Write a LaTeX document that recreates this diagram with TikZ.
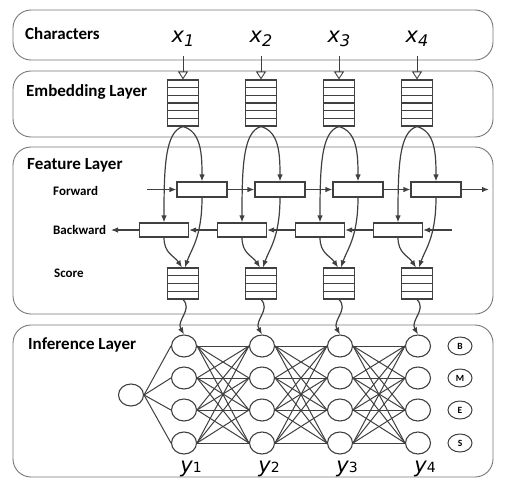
\documentclass[tikz,border=0pt]{standalone}
\usepackage{fontspec}
\setmainfont{Carlito}
\newfontfamily\symfont{DejaVu Sans}
\usetikzlibrary{shapes,arrows.meta,positioning,calc}

\definecolor{linegray}{RGB}{64,64,64}
\definecolor{panelgray}{RGB}{118,118,118}

\begin{document}
\begin{tikzpicture}[x=1pt, y=-1pt]

% Define styles
\tikzstyle{panel} = [draw=panelgray, line width=0.9pt, rounded corners=18pt]
\tikzstyle{layername} = [anchor=base west, inner sep=0pt, font=\fontsize{17}{17}\selectfont\bfseries]
\tikzstyle{rowlabel} = [anchor=base west, inner sep=0pt, font=\fontsize{13}{13}\selectfont\bfseries]
\tikzstyle{charlabel} = [anchor=base, inner sep=0pt, font=\symfont\fontsize{21}{21}\selectfont\itshape]
\tikzstyle{outlabel} = [anchor=base, inner sep=0pt, font=\symfont\fontsize{21}{21}\selectfont]
\tikzstyle{stackbox} = [rectangle, draw=linegray, line width=1.1pt, minimum width=31pt, inner sep=0pt]
\tikzstyle{cell} = [rectangle, draw=linegray, line width=1.1pt, minimum width=50pt, minimum height=15pt, inner sep=0pt]
\tikzstyle{neuron} = [ellipse, draw=linegray, line width=1.1pt, minimum width=25pt, minimum height=22pt, inner sep=0pt]
\tikzstyle{tagnode} = [ellipse, draw=linegray, line width=1pt, minimum width=24pt, minimum height=18pt, inner sep=0pt, font=\fontsize{9.5}{9.5}\selectfont\bfseries]
\tikzstyle{charin} = [draw=linegray, line width=0.9pt, -{Triangle[open, length=8pt, width=10pt]}]
\tikzstyle{arrow} = [draw=linegray, line width=1.2pt, -{Latex[length=7pt, width=5.5pt]}]
\tikzstyle{wire} = [draw=linegray, line width=1pt]
\tikzstyle{rowline} = [draw=linegray, line width=1.1pt]

\useasboundingbox (0,0) rectangle (513,487);

% Layers
\draw [panel] (13,10) rectangle (493,60);
\draw [panel] (13,71) rectangle (493,137);
\draw [panel] (13,147) rectangle (493,314);
\draw [panel] (13,325) rectangle (493,477);

\node [layername] (chars) at (25,40) {Characters};
\node [layername] (embed) at (26,96.5) {Embedding Layer};
\node [layername] (feat) at (27,169) {Feature Layer};
\node [layername] (infer) at (28,349) {Inference Layer};

\node [rowlabel] (fwd) at (53,195) {Forward};
\node [rowlabel] (bwd) at (53,234.5) {Backward};
\node [rowlabel] (score) at (54,277) {Score};

% Nodes
\foreach \i/\c in {1/183,2/261,3/339,4/417} {
  \node [charlabel] (x\i) at (\c,43) {x\raisebox{-3.5pt}{\fontsize{16}{16}\selectfont\i}};
  \node [stackbox, minimum height=46pt] (e\i) at (\c,103) {};
  \foreach \k in {1,...,5}
    \draw [rowline] ($(e\i.north west)!\k/6!(e\i.south west)$) -- ($(e\i.north east)!\k/6!(e\i.south east)$);
  \node [cell] (f\i) at (\c+19,189.5) {};
  \node [cell, minimum width=49pt, minimum height=14pt] (b\i) at (\c-19,230) {};
  \node [stackbox, minimum height=31pt] (s\i) at (\c,283.5) {};
  \foreach \k in {1,...,3}
    \draw [rowline] ($(s\i.north west)!\k/4!(s\i.south west)$) -- ($(s\i.north east)!\k/4!(s\i.south east)$);
  \foreach \j/\y in {1/346,2/378,3/410,4/443}
    \node [neuron] (n\i\j) at (\c+1,\y) {};
  \node [outlabel] (y\i) at (\c+8,472) {\itshape y\upshape\fontsize{14}{14}\selectfont\i};
}

\node [neuron] (start) at (131,395) {};
\node [tagnode] (tb) at (460,346) {B};
\node [tagnode] (tm) at (460,378) {M};
\node [tagnode] (te) at (460,410) {E};
\node [tagnode] (ts) at (460,443) {S};

\coordinate (fin) at (147,189.5);
\coordinate (fout) at (489,189.5);
\coordinate (bin) at (452,230);
\coordinate (bout) at (111,230);

% Arrows
\draw [arrow] (fin) -- (f1);
\draw [arrow] (f1) -- (f2);
\draw [arrow] (f2) -- (f3);
\draw [arrow] (f3) -- (f4);
\draw [arrow] (f4) -- (fout);

\draw [arrow] (bin) -- (b4);
\draw [arrow] (b4) -- (b3);
\draw [arrow] (b3) -- (b2);
\draw [arrow] (b2) -- (b1);
\draw [arrow] (b1) -- (bout);

\foreach \i in {1,...,4} {
  \draw [charin, shorten <=9pt] (x\i.south) -- (e\i.north);
  \draw [arrow] (e\i.south) .. controls +(-18,5) and +(0,-55) .. (b\i.north);
  \draw [arrow] (e\i.south) .. controls +(18,5) and +(0,-28) .. (f\i.north);
  \draw [arrow] (f\i.south) .. controls +(0,40) and +(6,-18) .. ($(s\i.north)+(2,0)$);
  \draw [arrow] (b\i.south) .. controls +(0,16) and +(-8,-12) .. ($(s\i.north)+(-1,0)$);
  \draw [arrow] (s\i.south) .. controls +(10,10) and +(-8,-14) .. (n\i1.north);
}

\foreach \j in {1,...,4}
  \draw [wire] (start.east) -- (n1\j.west);
\foreach \i/\ii in {1/2,2/3,3/4}
  \foreach \j in {1,...,4}
    \foreach \k in {1,...,4}
      \draw [wire] (n\i\j.east) -- (n\ii\k.west);

\end{tikzpicture}
\end{document}
